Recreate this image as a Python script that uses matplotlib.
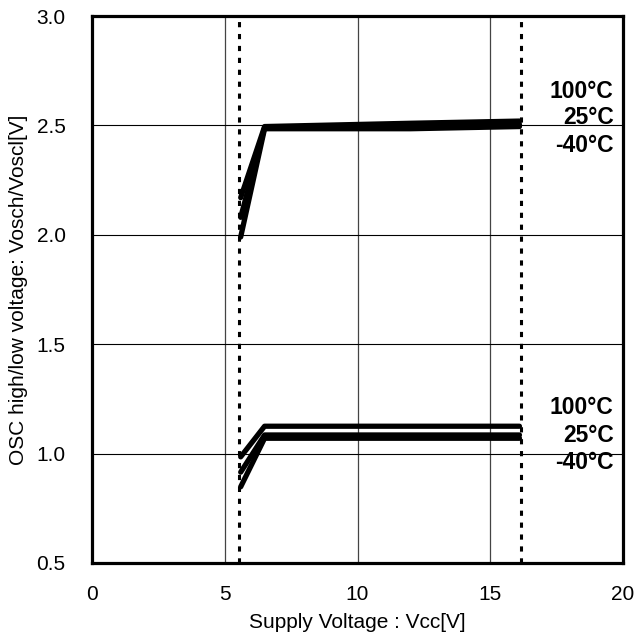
import matplotlib.pyplot as plt

plt.rcParams['font.family'] = ['Liberation Sans', 'DejaVu Sans']

# data
vcc = [5.6, 6.5, 12.0, 16.1]
vosch_100 = [2.17, 2.495, 2.51, 2.52]
vosch_25 = [2.08, 2.49, 2.50, 2.505]
vosch_m40 = [1.99, 2.485, 2.485, 2.495]
voscl_100 = [0.985, 1.125, 1.125, 1.125]
voscl_25 = [0.915, 1.085, 1.085, 1.085]
voscl_m40 = [0.848, 1.07, 1.07, 1.07]
vcc_limits = [5.55, 16.15]
temps = ['100°C', '25°C', '-40°C']
label_y_high = [2.626, 2.507, 2.38]
label_y_low = [1.18, 1.052, 0.929]

fig = plt.figure(figsize=(6.35, 6.43), dpi=100)
ax = fig.add_axes([0.1449, 0.1245, 0.8362, 0.8505])

for ys in [vosch_100, vosch_25, vosch_m40, voscl_100, voscl_25, voscl_m40]:
    ax.plot(vcc, ys, color='black', lw=3.8, solid_capstyle='round', zorder=3)

for xv in vcc_limits:
    ax.axvline(xv, color='black', lw=2.2, linestyle=(0, (1.7, 2.2)), zorder=2)

for t, y in zip(temps, label_y_high):
    ax.text(19.65, y, t, ha='right', va='baseline', fontsize=16.5, fontweight='bold')
for t, y in zip(temps, label_y_low):
    ax.text(19.65, y, t, ha='right', va='baseline', fontsize=16.5, fontweight='bold')

ax.set_xlim(0, 20)
ax.set_ylim(0.5, 3.0)
ax.set_xticks([0, 5, 10, 15, 20])
ax.set_yticks([0.5, 1.0, 1.5, 2.0, 2.5, 3.0])
ax.set_yticklabels(['0.5', '1.0', '1.5', '2.0', '2.5', '3.0'])
ax.tick_params(length=0, labelsize=15)
ax.tick_params(axis='x', pad=16)
ax.tick_params(axis='y', pad=19)
ax.grid(True, axis='y', color='black', lw=0.8)
ax.grid(True, axis='x', color='#444444', lw=0.9)
ax.set_axisbelow(True)
for s in ax.spines.values():
    s.set_linewidth(2.3)

ax.set_xlabel('Supply Voltage : Vcc[V]', fontsize=15, labelpad=6)
ax.set_ylabel('OSC high/low voltage: Vosch/Voscl[V]', fontsize=15, labelpad=6)

fig.savefig('out.png', dpi=100)
